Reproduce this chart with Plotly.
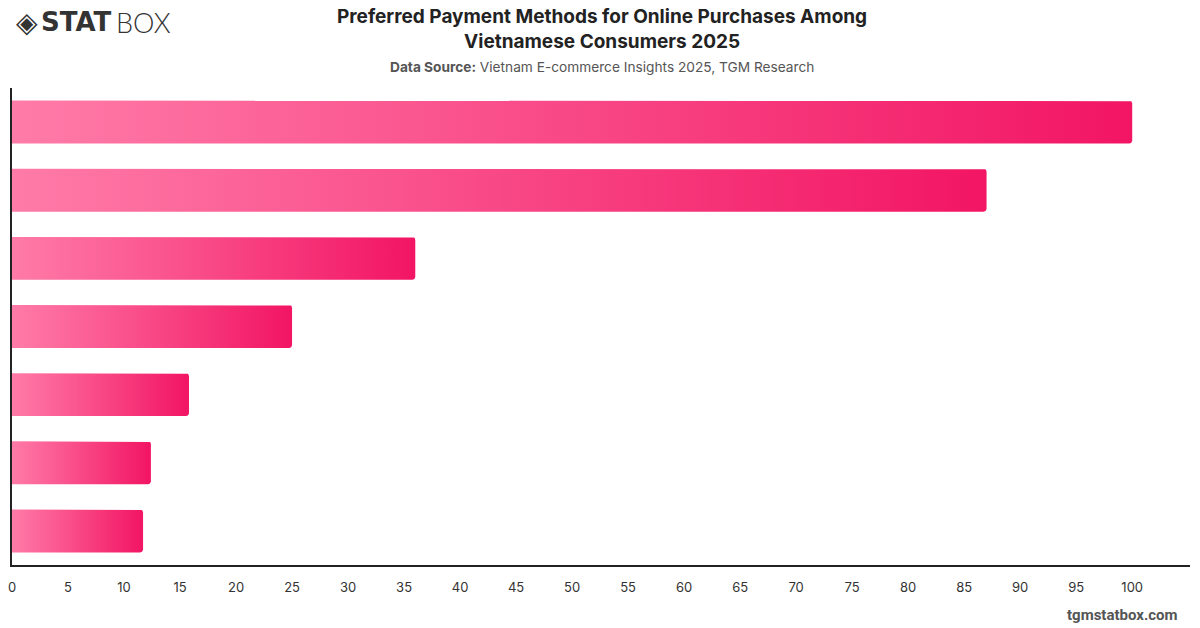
import plotly.graph_objects as go
import numpy as np

categories = ["Cash on Delivery", "E-wallets", "Bank Transfer", "Credit/Debit Cards",
              "QR Code Payments", "Buy Now Pay Later", "Other"]
values = [100, 87, 36, 25, 15.8, 12.4, 11.7]
x_ticks = list(range(0, 105, 5))

LEFT_COLOR = "#FF7BA8"
RIGHT_COLOR = "#F21563"
BAR_WIDTH = 0.63

W, H = 1200, 628
ML, MR, MT, MB = 8, 10, 88, 63
PW, PH = W - ML - MR, H - MT - MB
X_MAX = 105.16

def px(xp):
    return (xp - ML) / PW

def py(yp):
    return (H - MB - yp) / PH

fig = go.Figure()

# small rounded corners on the right end (about 3 px)
r_x = 3.0 / (PW / X_MAX)
r_y = 3.0 / (PH / len(categories))
theta = np.linspace(0, np.pi / 2, 6)

for i, (cat, v) in enumerate(zip(categories, values)):
    y0 = i - BAR_WIDTH / 2
    y1 = i + BAR_WIDTH / 2
    xs = [0, v - r_x]
    ys = [y0, y0]
    for t in theta:  # corner at (v, y0)
        xs.append(v - r_x + r_x * np.sin(t))
        ys.append(y0 + r_y - r_y * np.cos(t))
    for t in theta:  # corner at (v, y1)
        xs.append(v - r_x + r_x * np.cos(t))
        ys.append(y1 - r_y + r_y * np.sin(t))
    xs += [0, 0]
    ys += [y1, y0]
    fig.add_trace(go.Scatter(
        x=xs, y=ys, mode="lines", fill="toself",
        line=dict(width=0, color=RIGHT_COLOR),
        fillgradient=dict(type="horizontal",
                          colorscale=[[0, LEFT_COLOR], [1, RIGHT_COLOR]]),
        name=cat, hoverinfo="text", text=f"{cat}: {v}",
        showlegend=False,
    ))

fig.update_xaxes(
    range=[0, X_MAX], tickvals=x_ticks, ticktext=[str(t) for t in x_ticks],
    showgrid=False, zeroline=False, showline=True, linecolor="#222", linewidth=1.5,
    ticks="", ticklabelstandoff=10,
    tickfont=dict(family="Inter", size=13, color="#333"),
    fixedrange=True,
)
fig.update_yaxes(
    range=[6.5, -0.5], showticklabels=False, showgrid=False, zeroline=False,
    showline=True, linecolor="#222", linewidth=1.5, ticks="", fixedrange=True,
)

fig.update_layout(
    width=W, height=H,
    margin=dict(l=ML, r=MR, t=MT, b=MB),
    plot_bgcolor="white", paper_bgcolor="white",
    annotations=[
        dict(text="<b>Preferred Payment Methods for Online Purchases Among<br>Vietnamese Consumers 2025</b>",
             xref="paper", yref="paper", x=px(600), y=py(29),
             xanchor="center", yanchor="middle", showarrow=False,
             font=dict(family="Inter", size=19, color="#222")),
        dict(text="<b>Data Source:</b> Vietnam E-commerce Insights 2025, TGM Research",
             xref="paper", yref="paper", x=px(600), y=py(67),
             xanchor="center", yanchor="middle", showarrow=False,
             font=dict(family="Inter", size=13.7, color="#555")),
        dict(text="<b>tgmstatbox.com</b>", xref="paper", yref="paper",
             x=px(1180), y=py(615), xanchor="right", yanchor="middle",
             showarrow=False, font=dict(family="Roboto", size=15, color="#555")),
        dict(text="◈", xref="paper", yref="paper",
             x=px(23), y=py(22), xanchor="center", yanchor="middle",
             showarrow=False, font=dict(family="DejaVu Sans", size=28, color="#333")),
        dict(text="<b>STAT</b>", xref="paper", yref="paper",
             x=px(35), y=py(22), xanchor="left", yanchor="middle",
             showarrow=False, font=dict(family="DejaVu Sans", size=26, color="#333")),
        dict(text="BOX", xref="paper", yref="paper",
             x=px(110), y=py(22), xanchor="left", yanchor="middle",
             showarrow=False, font=dict(family="Lato", size=27, color="#333", weight=300)),
    ],
)

fig.write_html("out.html")
